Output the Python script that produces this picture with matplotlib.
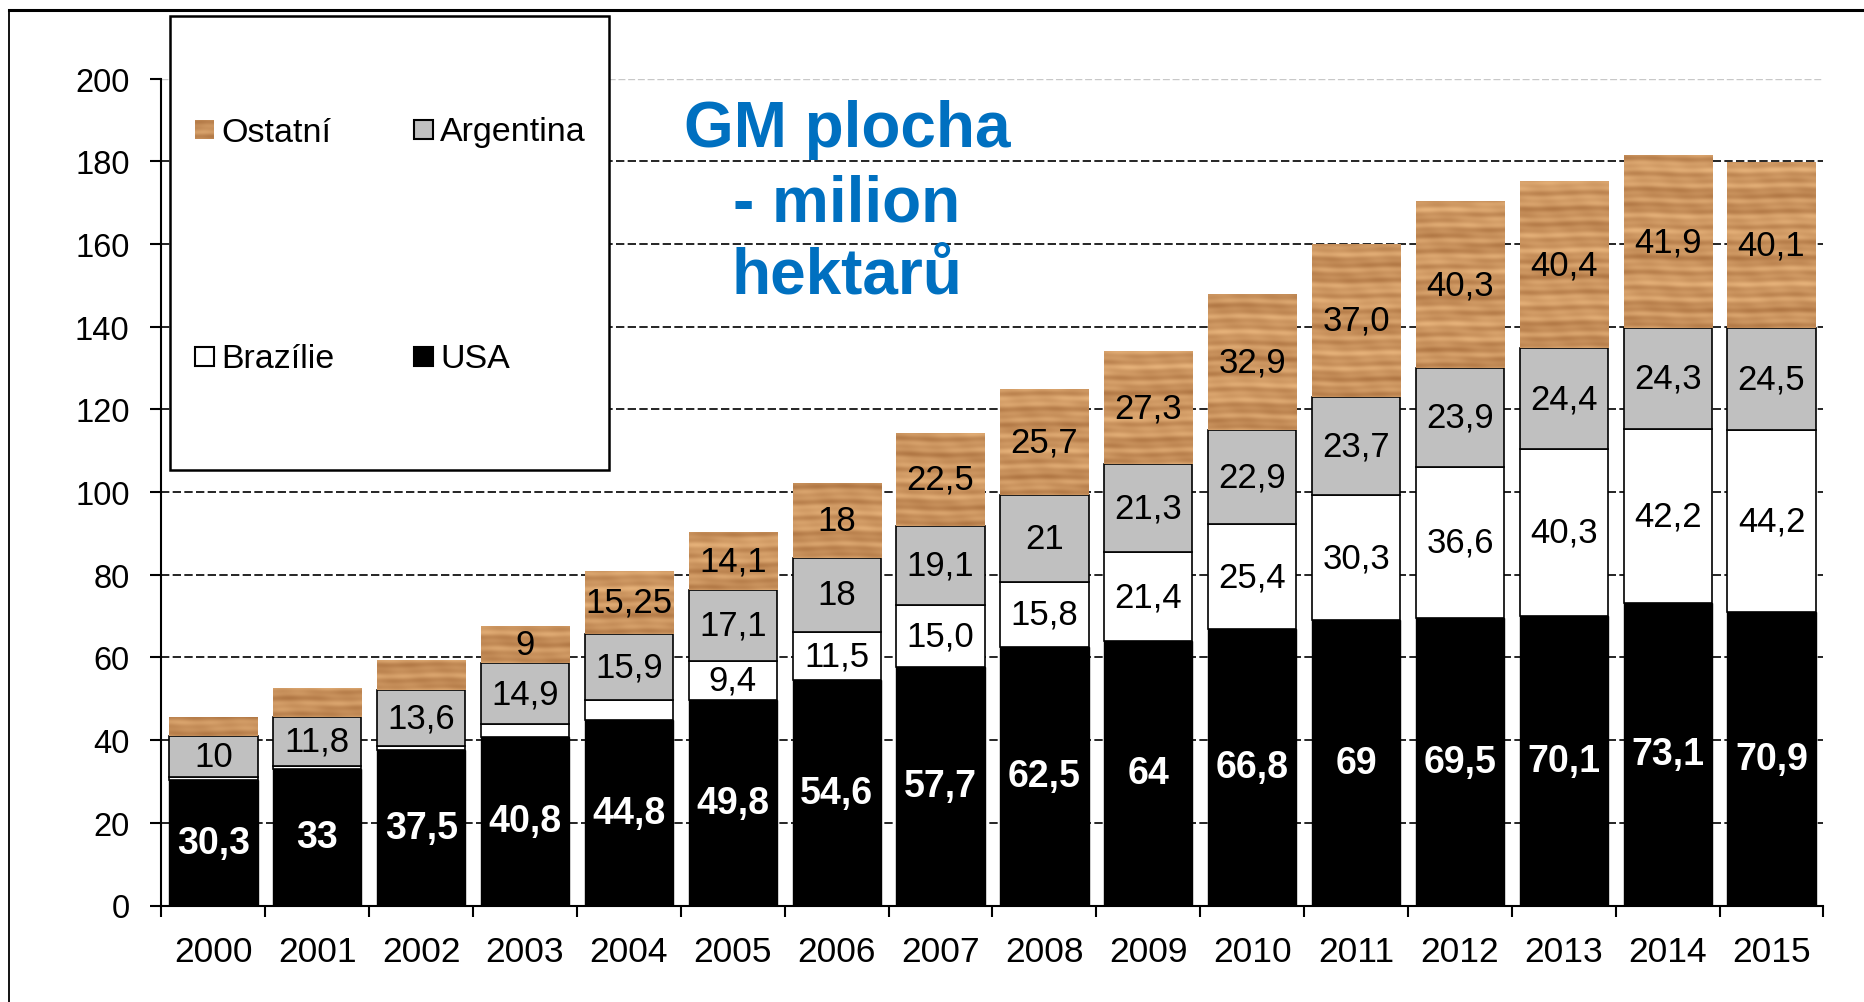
import numpy as np
import matplotlib
matplotlib.use("Agg")
import matplotlib.pyplot as plt
from matplotlib.patches import Rectangle
from matplotlib.lines import Line2D

plt.rcParams['font.family'] = ['Liberation Sans', 'DejaVu Sans']

# ---------------- data ----------------
years = [str(y) for y in range(2000, 2016)]
usa = [30.3, 33, 37.5, 40.8, 44.8, 49.8, 54.6, 57.7, 62.5, 64, 66.8, 69, 69.5, 70.1, 73.1, 70.9]
brazil = [0.8, 0.8, 1.0, 3.0, 5.0, 9.4, 11.5, 15.0, 15.8, 21.4, 25.4, 30.3, 36.6, 40.3, 42.2, 44.2]
argentina = [10, 11.8, 13.6, 14.9, 15.9, 17.1, 18, 19.1, 21, 21.3, 22.9, 23.7, 23.9, 24.4, 24.3, 24.5]
ostatni = [4.4, 7.0, 7.2, 9, 15.25, 14.1, 18, 22.5, 25.7, 27.3, 32.9, 37.0, 40.3, 40.4, 41.9, 40.1]

usa_labels = ["30,3", "33", "37,5", "40,8", "44,8", "49,8", "54,6", "57,7", "62,5", "64",
              "66,8", "69", "69,5", "70,1", "73,1", "70,9"]
brazil_labels = [None, None, None, None, None, "9,4", "11,5", "15,0", "15,8", "21,4",
                 "25,4", "30,3", "36,6", "40,3", "42,2", "44,2"]
argentina_labels = ["10", "11,8", "13,6", "14,9", "15,9", "17,1", "18", "19,1", "21", "21,3",
                    "22,9", "23,7", "23,9", "24,4", "24,3", "24,5"]
ostatni_labels = [None, None, None, "9", "15,25", "14,1", "18", "22,5", "25,7", "27,3",
                  "32,9", "37,0", "40,3", "40,4", "41,9", "40,1"]
yticks = list(range(0, 201, 20))

# ---------------- helpers ----------------
W, H = 1865, 1003
def fx(px):
    return px / W
def fy(py):
    return 1 - py / H

def wood(h, w, phase=0.0):
    yy, xx = np.mgrid[0:h, 0:w].astype(float)
    t = (0.45
         + 0.18 * np.sin(yy / 2.6 + 0.9 * np.sin(xx / 31.0 + phase))
         + 0.12 * np.sin(yy / 1.2 + 0.6 * np.sin(xx / 13.0 + 2 * phase))
         + 0.10 * np.sin(yy / 9.0 + 0.4 * np.sin(xx / 17.0 + 3 * phase))
         + 0.05 * np.sin(xx / 4.0 + yy / 6.0 + phase))
    t = np.clip(t, 0, 1)
    light = np.array([230, 178, 122]) / 255
    dark = np.array([170, 112, 62]) / 255
    return light[None, None, :] + (dark - light)[None, None, :] * t[..., None]

# ---------------- figure ----------------
fig = plt.figure(figsize=(18.65, 10.03), dpi=100)
ax = fig.add_axes([fx(161.5), fy(906.5), fx(1823.5) - fx(161.5), fy(79.5) - fy(906.5)])

x = np.arange(len(years))
bw = 0.85
usa_a = np.array(usa)
bra_a = np.array(brazil)
arg_a = np.array(argentina)
ost_a = np.array(ostatni)

ax.bar(x, usa_a, bw, color='black', edgecolor='black', linewidth=1.0, zorder=2)
ax.bar(x, bra_a, bw, bottom=usa_a, color='white', edgecolor='black', linewidth=1.2, zorder=2)
ax.bar(x, arg_a, bw, bottom=usa_a + bra_a, color='#C0C0C0', edgecolor='black', linewidth=1.2, zorder=2)
ost_bars = ax.bar(x, ost_a, bw, bottom=usa_a + bra_a + arg_a, color='#C89062', linewidth=0, zorder=2)

for i, p in enumerate(ost_bars):
    x0, y0 = p.get_x(), p.get_y()
    hpx = max(int(p.get_height() * 4.13), 4)
    img = wood(hpx, 74, phase=i * 1.7)
    im = ax.imshow(img, extent=[x0, x0 + p.get_width(), y0, y0 + p.get_height()],
                   origin='lower', aspect='auto', interpolation='bilinear', zorder=2.5)
    im.set_clip_path(p)

# grid lines
for v in yticks[1:-1]:
    ax.axhline(v, color='black', lw=1.2, ls=(0, (5, 2)), zorder=1)
ax.axhline(200, color='#C8C8C8', lw=1.0, ls=(0, (5, 2)), zorder=1)

ax.set_xlim(-0.5, 15.5)
ax.set_ylim(0, 200)
ax.set_yticks(yticks)
ax.set_yticklabels([str(v) for v in yticks], fontsize=23.5)
ax.set_xticks(np.arange(-0.5, 16, 1))
ax.set_xticklabels([])
ax.set_xticks(x, minor=True)
ax.set_xticklabels(years, minor=True, fontsize=25.5)
ax.tick_params(axis='x', which='major', direction='out', length=8, width=1.5)
ax.tick_params(axis='x', which='minor', length=0, pad=21)
ax.tick_params(axis='y', direction='out', length=8, width=1.5, pad=15)
for s in ['top', 'right']:
    ax.spines[s].set_visible(False)
ax.spines['left'].set_linewidth(1.5)
ax.spines['bottom'].set_linewidth(1.5)
ax.set_facecolor('none')

# value labels
for i in range(len(years)):
    ax.text(x[i], usa_a[i] / 2, usa_labels[i], ha='center', va='center',
            color='white', fontsize=27, fontweight='bold', zorder=4)
    if brazil_labels[i]:
        ax.text(x[i], usa_a[i] + bra_a[i] / 2, brazil_labels[i], ha='center', va='center',
                color='black', fontsize=25, zorder=4)
    ax.text(x[i], usa_a[i] + bra_a[i] + arg_a[i] / 2, argentina_labels[i], ha='center',
            va='center', color='black', fontsize=25, zorder=4)
    if ostatni_labels[i]:
        ax.text(x[i], usa_a[i] + bra_a[i] + arg_a[i] + ost_a[i] / 2, ostatni_labels[i],
                ha='center', va='center', color='black', fontsize=25, zorder=4)

# legend box (manual)
fig.add_artist(Rectangle((fx(170), fy(471)), fx(609) - fx(170), fy(17) - fy(471),
                         transform=fig.transFigure, facecolor='white', edgecolor='black',
                         linewidth=1.8, zorder=5))
sw = 19
sax = fig.add_axes([fx(195), fy(140), sw / W, sw / H], zorder=6)
sax.imshow(wood(20, 20, 0.5), aspect='auto', interpolation='bilinear')
sax.axis('off')
fig.add_artist(Rectangle((fx(414), fy(140)), sw / W, sw / H, transform=fig.transFigure,
                         facecolor='#C0C0C0', edgecolor='black', linewidth=1.5, zorder=6))
fig.add_artist(Rectangle((fx(195), fy(367)), sw / W, sw / H, transform=fig.transFigure,
                         facecolor='white', edgecolor='black', linewidth=1.5, zorder=6))
fig.add_artist(Rectangle((fx(414), fy(367)), sw / W, sw / H, transform=fig.transFigure,
                         facecolor='black', edgecolor='black', linewidth=1.5, zorder=6))
leg_font = 24.5
fig.text(fx(221), fy(133), "Ostatní", fontsize=leg_font, va='center', ha='left', zorder=7)
fig.text(fx(440), fy(133), "Argentina", fontsize=leg_font, va='center', ha='left', zorder=7)
fig.text(fx(221), fy(360), "Brazílie", fontsize=leg_font, va='center', ha='left', zorder=7)
fig.text(fx(440), fy(360), "USA", fontsize=leg_font, va='center', ha='left', zorder=7)

# title
for txt, py in [("GM plocha", 130), ("- milion", 204), ("hektarů", 276)]:
    fig.text(fx(847), fy(py), txt, fontsize=46, fontweight='bold', color='#0070C0',
             ha='center', va='center', zorder=7)

# outer frame lines
fig.add_artist(Line2D([fx(9), 1.0], [fy(11), fy(11)], transform=fig.transFigure,
                      color='black', linewidth=2.2))
fig.add_artist(Line2D([fx(9), fx(9)], [0, fy(11)], transform=fig.transFigure,
                      color='black', linewidth=1.3))

fig.savefig("out.png", dpi=100)
